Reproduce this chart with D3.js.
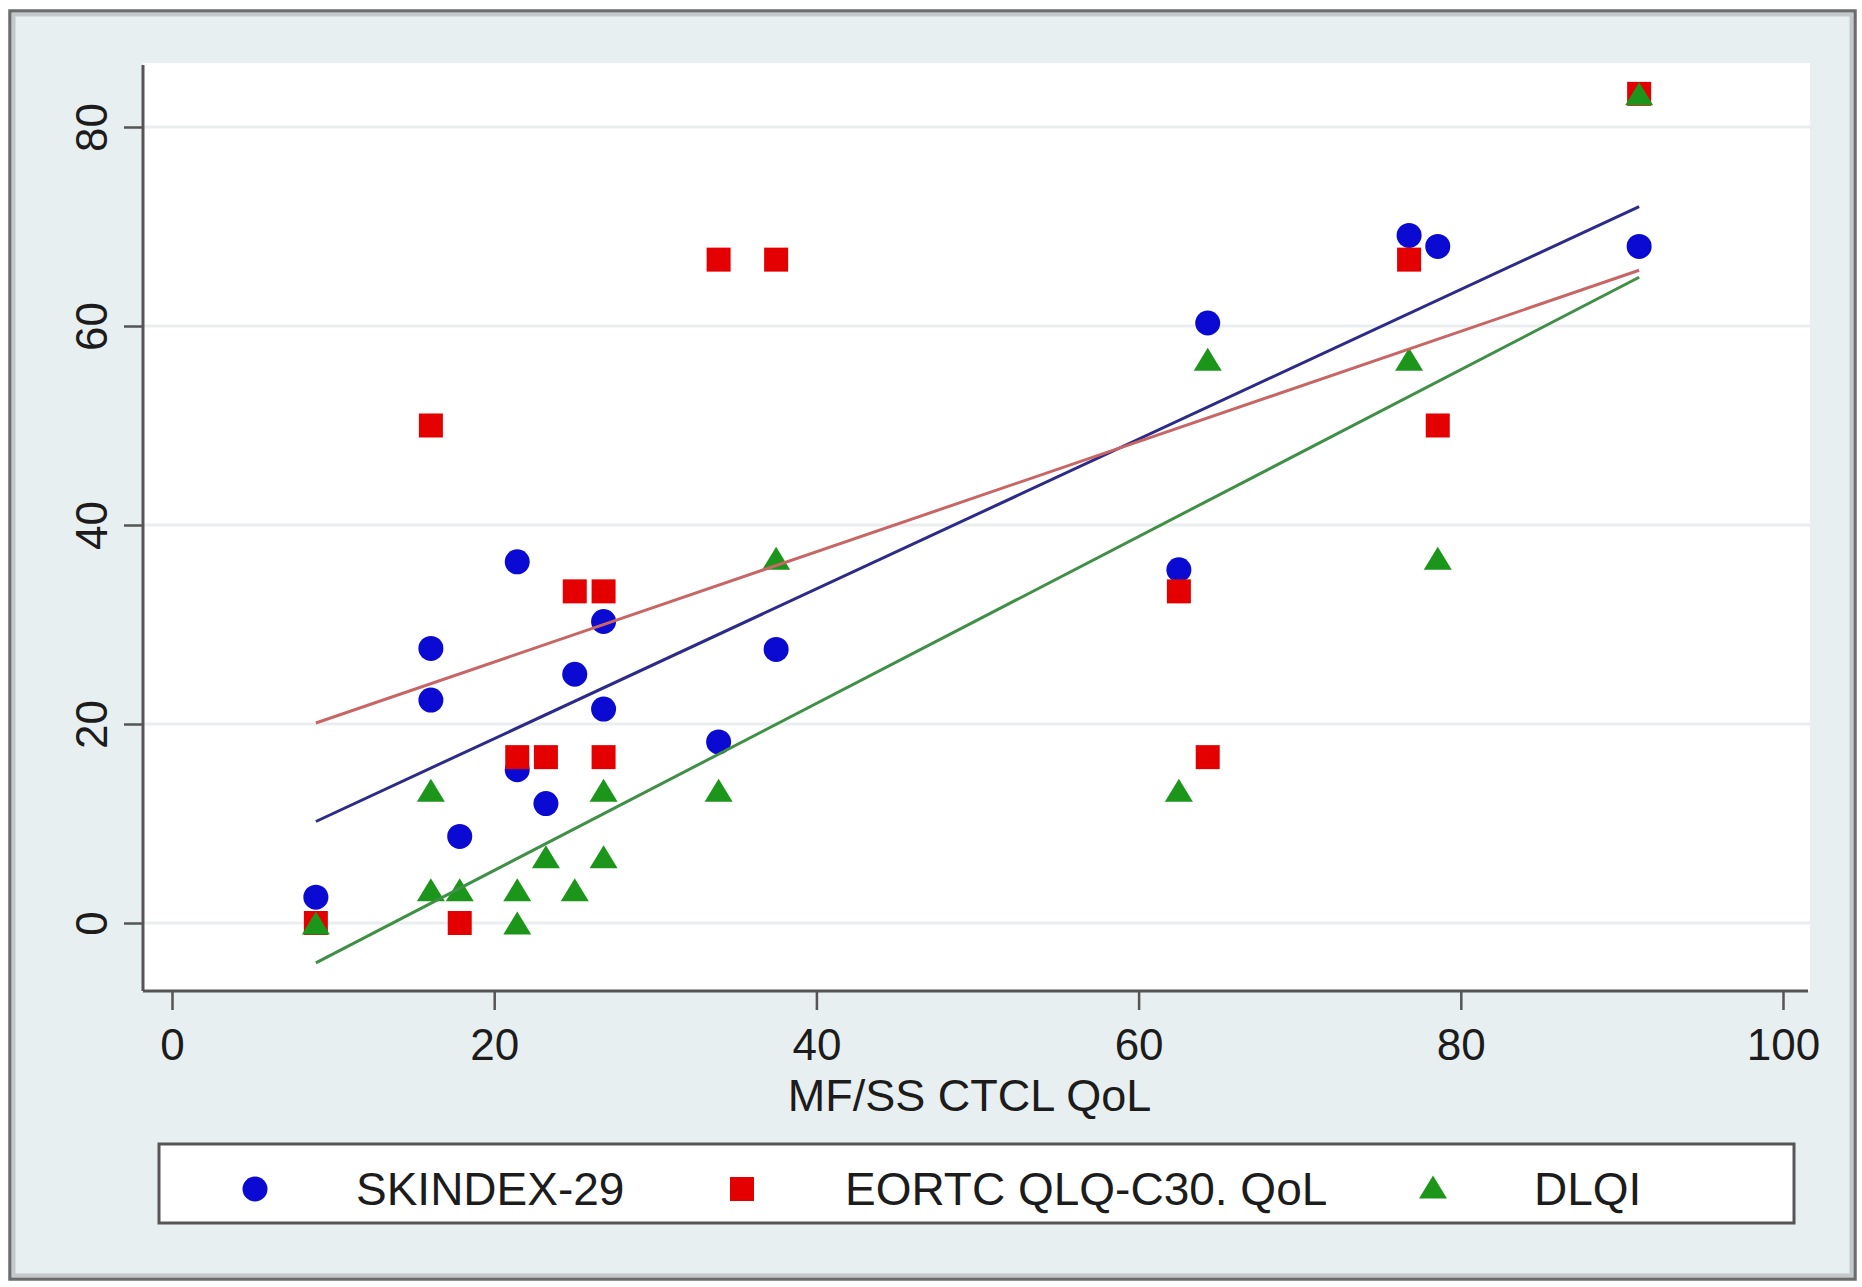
<!DOCTYPE html>
<html>
<head>
<meta charset="utf-8">
<script src="https://cdn.jsdelivr.net/npm/d3@7"></script>
<style>
  html, body { margin: 0; padding: 0; background: #ffffff; }
  svg { display: block; }
  text { font-family: "Liberation Sans", Arial, Helvetica, sans-serif; fill: #1c1c1c; }
</style>
</head>
<body>
<svg id="chart" width="1862" height="1287"></svg>
<script>
// MF/SS CTCL QoL score (x) against three other quality-of-life instruments
const skindexX = [8.93, 16.07, 16.07, 17.86, 21.43, 21.43, 23.21, 25.00, 26.79, 26.79, 33.93, 37.50, 62.50, 64.29, 76.79, 78.57, 91.07];
const skindexY = [2.6, 27.6, 22.4, 8.7, 36.3, 15.4, 12.0, 25.0, 30.3, 21.5, 18.2, 27.5, 35.5, 60.3, 69.1, 68.0, 68.0];

const eortcX = [8.93, 16.07, 17.86, 21.43, 23.21, 25.00, 26.79, 26.79, 33.93, 37.50, 62.50, 64.29, 76.79, 78.57, 91.07];
const eortcY = [0, 50, 0, 16.67, 16.67, 33.33, 33.33, 16.67, 66.67, 66.67, 33.33, 16.67, 66.67, 50, 83.33];

const dlqiX = [8.93, 16.07, 16.07, 17.86, 21.43, 21.43, 23.21, 25.00, 26.79, 26.79, 33.93, 37.50, 62.50, 64.29, 76.79, 78.57, 91.07];
const dlqiY = [0, 13.33, 3.33, 3.33, 3.33, 0, 6.67, 3.33, 13.33, 6.67, 13.33, 36.67, 13.33, 56.67, 56.67, 36.67, 83.33];

// Linear-fit lines: fitted values at the smallest and largest x
const fitX = [8.93, 91.07];
const fitSkindex = [10.2, 72.0];
const fitEortc = [20.1, 65.6];
const fitDlqi = [-4.0, 64.9];

const seriesNames = ["SKINDEX-29", "EORTC QLQ-C30. QoL", "DLQI"];
const xTicks = [0, 20, 40, 60, 80, 100];
const yTicks = [0, 20, 40, 60, 80];
const xTitle = "MF/SS CTCL QoL";

// ---- layout ----
const W = 1862, H = 1287;
const plot = { left: 143, right: 1810, top: 63, bottom: 991 };
const svg = d3.select("#chart");

const x = d3.scaleLinear().domain([0, 100]).range([172, 1783]);
const y = d3.scaleLinear().domain([0, 80]).range([923, 127]);

const colors = {
  skindex: "#0a0ad2", eortc: "#e40000", dlqi: "#1b961b",
  skindexLine: "#2c2c88", eortcLine: "#c86666", dlqiLine: "#3f9046"
};

// outer graph region
svg.append("rect").attr("x", 0).attr("y", 0).attr("width", W).attr("height", H).attr("fill", "#ffffff");
svg.append("rect").attr("x", 10).attr("y", 11).attr("width", W - 17).attr("height", H - 19)
  .attr("fill", "#e8eff0").attr("stroke", "#6c6c6c").attr("stroke-width", 3.5);
svg.append("rect").attr("x", 13.5).attr("y", 14.5).attr("width", W - 24).attr("height", H - 26)
  .attr("fill", "none").attr("stroke", "#c3c9ca").attr("stroke-width", 4);

// plot region
svg.append("rect").attr("x", plot.left).attr("y", plot.top)
  .attr("width", plot.right - plot.left).attr("height", plot.bottom - plot.top)
  .attr("fill", "#ffffff");

// gridlines
svg.append("g").selectAll("line").data(yTicks).join("line")
  .attr("x1", plot.left).attr("x2", plot.right)
  .attr("y1", d => y(d)).attr("y2", d => y(d))
  .attr("stroke", "#eaeeef").attr("stroke-width", 3);

// axes
const xAxis = svg.append("g").attr("transform", `translate(0,${plot.bottom})`)
  .call(d3.axisBottom(x).tickValues(xTicks).tickSize(19).tickPadding(0));
xAxis.select(".domain").remove();
xAxis.selectAll(".tick line").attr("stroke", "#555").attr("stroke-width", 2.5);
xAxis.selectAll(".tick text").attr("y", 69).attr("dy", 0)
  .style("font-size", "44px").attr("fill", "#1c1c1c");

const yAxis = svg.append("g").attr("transform", `translate(${plot.left},0)`)
  .call(d3.axisLeft(y).tickValues(yTicks).tickSize(19).tickPadding(0));
yAxis.select(".domain").remove();
yAxis.selectAll(".tick line").attr("stroke", "#555").attr("stroke-width", 2.5);
yAxis.selectAll(".tick text")
  .attr("transform", "rotate(-90)")
  .attr("x", 0).attr("y", -36).attr("dy", 0)
  .attr("text-anchor", "middle")
  .style("font-size", "44px").attr("fill", "#1c1c1c");

// axis lines
svg.append("line").attr("x1", plot.left).attr("x2", plot.left)
  .attr("y1", plot.top + 2).attr("y2", plot.bottom)
  .attr("stroke", "#555").attr("stroke-width", 3);
svg.append("line").attr("x1", plot.left).attr("x2", plot.right - 2)
  .attr("y1", plot.bottom).attr("y2", plot.bottom)
  .attr("stroke", "#555").attr("stroke-width", 3);

// axis title
svg.append("text").attr("x", (plot.left + plot.right) / 2 - 7).attr("y", 1111)
  .attr("text-anchor", "middle").style("font-size", "45px").text(xTitle);

// marker shapes
const circleR = 12.5;
const sq = 24;
const triW = 28, triH = 23;
const triPath = `M0,${-triH / 2}L${triW / 2},${triH / 2}L${-triW / 2},${triH / 2}Z`;

function drawCircles(g, xs, ys, color) {
  g.selectAll("circle").data(xs.map((d, i) => [d, ys[i]])).join("circle")
    .attr("cx", d => x(d[0])).attr("cy", d => y(d[1])).attr("r", circleR).attr("fill", color);
}
function drawSquares(g, xs, ys, color) {
  g.selectAll("rect").data(xs.map((d, i) => [d, ys[i]])).join("rect")
    .attr("x", d => x(d[0]) - sq / 2).attr("y", d => y(d[1]) - sq / 2)
    .attr("width", sq).attr("height", sq).attr("fill", color);
}
function drawTriangles(g, xs, ys, color) {
  g.selectAll("path").data(xs.map((d, i) => [d, ys[i]])).join("path")
    .attr("transform", d => `translate(${x(d[0])},${y(d[1])})`)
    .attr("d", triPath).attr("fill", color);
}

// scatter points
drawCircles(svg.append("g"), skindexX, skindexY, colors.skindex);
drawSquares(svg.append("g"), eortcX, eortcY, colors.eortc);
drawTriangles(svg.append("g"), dlqiX, dlqiY, colors.dlqi);

// fit lines
const line = d3.line().x(d => x(d[0])).y(d => y(d[1]));
[[fitSkindex, colors.skindexLine], [fitEortc, colors.eortcLine], [fitDlqi, colors.dlqiLine]]
  .forEach(([vals, c]) => {
    svg.append("path").datum(fitX.map((d, i) => [d, vals[i]]))
      .attr("d", line).attr("fill", "none").attr("stroke", c).attr("stroke-width", 3);
  });

// legend
const lg = svg.append("g");
lg.append("rect").attr("x", 159).attr("y", 1144).attr("width", 1635).attr("height", 79)
  .attr("fill", "#ffffff").attr("stroke", "#565656").attr("stroke-width", 3);
const legendY = 1189;
const keyX = [255, 742, 1433];
const labelX = [356, 845, 1534];
lg.append("circle").attr("cx", keyX[0]).attr("cy", legendY).attr("r", circleR).attr("fill", colors.skindex);
lg.append("rect").attr("x", keyX[1] - sq / 2).attr("y", legendY - sq / 2).attr("width", sq).attr("height", sq).attr("fill", colors.eortc);
lg.append("path").attr("transform", `translate(${keyX[2]},${legendY - 2})`).attr("d", triPath).attr("fill", colors.dlqi);
seriesNames.forEach((name, i) => {
  lg.append("text").attr("x", labelX[i]).attr("y", 1205)
    .style("font-size", "46px").text(name);
});
</script>
</body>
</html>
